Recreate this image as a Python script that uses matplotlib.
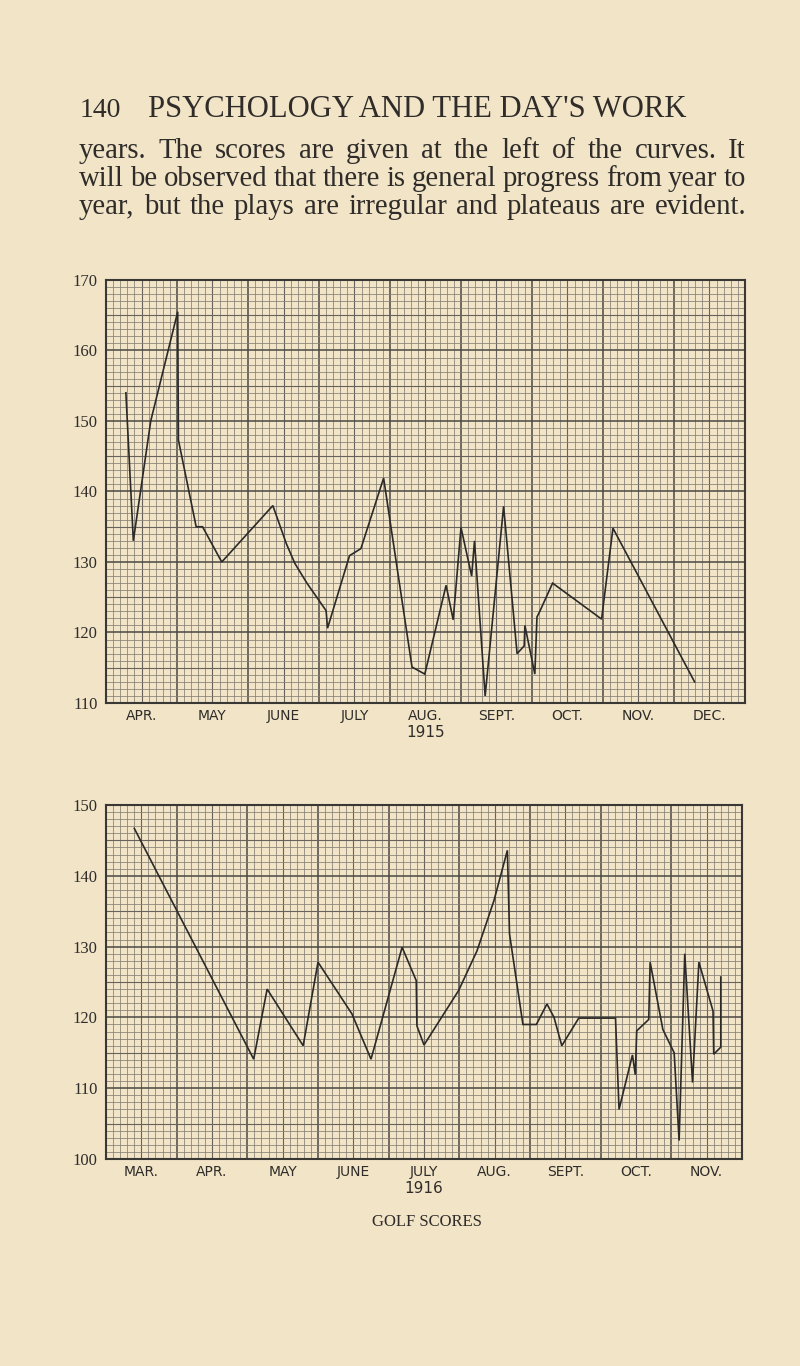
import matplotlib.pyplot as plt
import numpy as np

# 1915 curve (x in months from start of April, y = score)
months_1915 = ['APR.', 'MAY', 'JUNE', 'JULY', 'AUG.', 'SEPT.', 'OCT.', 'NOV.', 'DEC.']
x_1915 = [0.28, 0.385, 0.63, 1.01, 1.02, 1.27, 1.36, 1.63, 2.35, 2.54, 2.66, 2.83,
          3.10, 3.12, 3.43, 3.59, 3.91, 4.31, 4.49, 4.79, 4.89, 5.00, 5.15, 5.19,
          5.34, 5.60, 5.79, 5.89, 5.90, 6.04, 6.07, 6.11, 6.29, 6.98, 7.14, 8.29]
score_1915 = [154, 133, 150, 165.5, 147.3, 135, 135, 130, 138, 132.6, 129.8, 127,
              123.1, 120.6, 130.9, 131.9, 141.9, 115.1, 114.1, 126.7, 121.8, 134.9, 128.0, 133.0,
              111.0, 137.9, 117.0, 118.1, 121.0, 114.1, 122.2, 123.0, 127.0, 121.9, 134.8, 113.0]
yticks_1915 = [110, 120, 130, 140, 150, 160, 170]

# 1916 curve (x in months from start of March)
months_1916 = ['MAR.', 'APR.', 'MAY', 'JUNE', 'JULY', 'AUG.', 'SEPT.', 'OCT.', 'NOV.']
x_1916 = [0.40, 2.09, 2.28, 2.79, 3.00, 3.48, 3.75, 4.19, 4.39, 4.40, 4.50, 4.78,
          4.99, 5.25, 5.49, 5.68, 5.71, 5.90, 6.09, 6.24, 6.34, 6.45, 6.69, 7.21,
          7.26, 7.45, 7.49, 7.51, 7.68, 7.70, 7.88, 8.04, 8.11, 8.19, 8.30, 8.39,
          8.59, 8.60, 8.70, 8.70]
score_1916 = [146.7, 114.1, 124.0, 116.0, 127.8, 120.5, 114.1, 129.9, 125.2, 118.8, 116.1, 120.5,
              123.8, 129.4, 136.5, 143.6, 131.8, 119.0, 119.0, 121.9, 120.0, 116.0, 119.9, 119.9,
              107.0, 114.7, 111.9, 118.1, 119.7, 127.8, 118.3, 115.0, 102.6, 129.0, 110.8, 127.8,
              120.9, 114.8, 115.8, 125.7]
yticks_1916 = [100, 110, 120, 130, 140, 150]

header_num = '140'
header = "PSYCHOLOGY AND THE DAY'S WORK"
body = ["years.  The scores are given at the left of the curves.  It",
        "will be observed that there is general progress from year to",
        "year, but the plays are irregular and plateaus are evident."]
caption = 'GOLF SCORES'

paper = '#f1e4c7'
ink = '#2f2c29'
W, H = 800, 1366

fig = plt.figure(figsize=(W / 100, H / 100), dpi=100, facecolor=paper)
renderer = fig.canvas.get_renderer()


def px(x, y):
    return x / W, 1 - y / H


def width_of(t):
    return t.get_window_extent(renderer=renderer).width


def justify(line, y, x0, x1, size):
    words = line.split()
    texts = [fig.text(0, 0, w, fontsize=size, family='Liberation Serif', color=ink, va='baseline')
             for w in words]
    widths = [width_of(t) for t in texts]
    gap = (x1 - x0 - sum(widths)) / (len(words) - 1)
    x = x0
    for t, w in zip(texts, widths):
        t.set_position(px(x, y))
        x += w + gap


# header
fig.text(*px(80, 117), header_num, fontsize=20, family='Liberation Serif', color=ink, va='baseline')
h = fig.text(*px(148, 117), header, fontsize=20, family='Liberation Serif', color=ink, va='baseline')
h.set_fontsize(20 * 539 / width_of(h))

# body text, sized so the last line fills the measure with ordinary spacing
probe = fig.text(0, 0, body[2], fontsize=18, family='Liberation Serif')
body_size = 18 * 650 / width_of(probe)
probe.remove()
for i, line in enumerate(body):
    justify(line, 158 + 28 * i, 79, 746, body_size)


def golf_panel(box, months, xs, ys, yticks, year):
    left, top, right, bottom = box
    ax = fig.add_axes([left / W, 1 - bottom / H, (right - left) / W, (bottom - top) / H])
    ax.set_facecolor(paper)
    n = len(months)
    y0, y1 = yticks[0], yticks[-1]
    ax.set_xlim(0, n)
    ax.set_ylim(y0, y1)

    # graph paper
    for k in range(n * 10 + 1):
        if k % 10 == 0:
            lw, c = 1.1, '#4b4843'
        elif k % 5 == 0:
            lw, c = 0.8, '#67635c'
        else:
            lw, c = 0.55, '#857f74'
        ax.axvline(k / 10, lw=lw, color=c, zorder=1)
    for v in range(y0, y1 + 1):
        if v % 10 == 0:
            lw, c = 1.1, '#4b4843'
        elif v % 5 == 0:
            lw, c = 0.8, '#67635c'
        else:
            lw, c = 0.55, '#857f74'
        ax.axhline(v, lw=lw, color=c, zorder=1)

    ax.plot(xs, ys, color='#2b2a28', lw=1.2, zorder=3, solid_joinstyle='miter')

    for s in ax.spines.values():
        s.set_linewidth(1.5)
        s.set_color('#3a3835')
        s.set_zorder(4)

    ax.set_xticks(np.arange(n) + 0.5)
    ax.set_xticklabels(months, family='DejaVu Sans', fontsize=10, color=ink)
    ax.set_yticks(yticks)
    ax.set_yticklabels([str(v) for v in yticks], family='Liberation Serif', fontsize=12, color=ink)
    ax.tick_params(length=0, pad=4)
    ax.tick_params(axis='y', pad=6)
    ax.set_xlabel(year, family='DejaVu Sans', fontsize=11, color=ink, labelpad=2)
    return ax


golf_panel((106, 280, 745, 703), months_1915, x_1915, score_1915, yticks_1915, '1915')
golf_panel((106, 805, 742, 1159), months_1916, x_1916, score_1916, yticks_1916, '1916')

fig.text(*px(427, 1222), caption, fontsize=12, family='Liberation Serif', color=ink,
         ha='center', va='center')

fig.savefig('out.png', dpi=100, facecolor=paper)
